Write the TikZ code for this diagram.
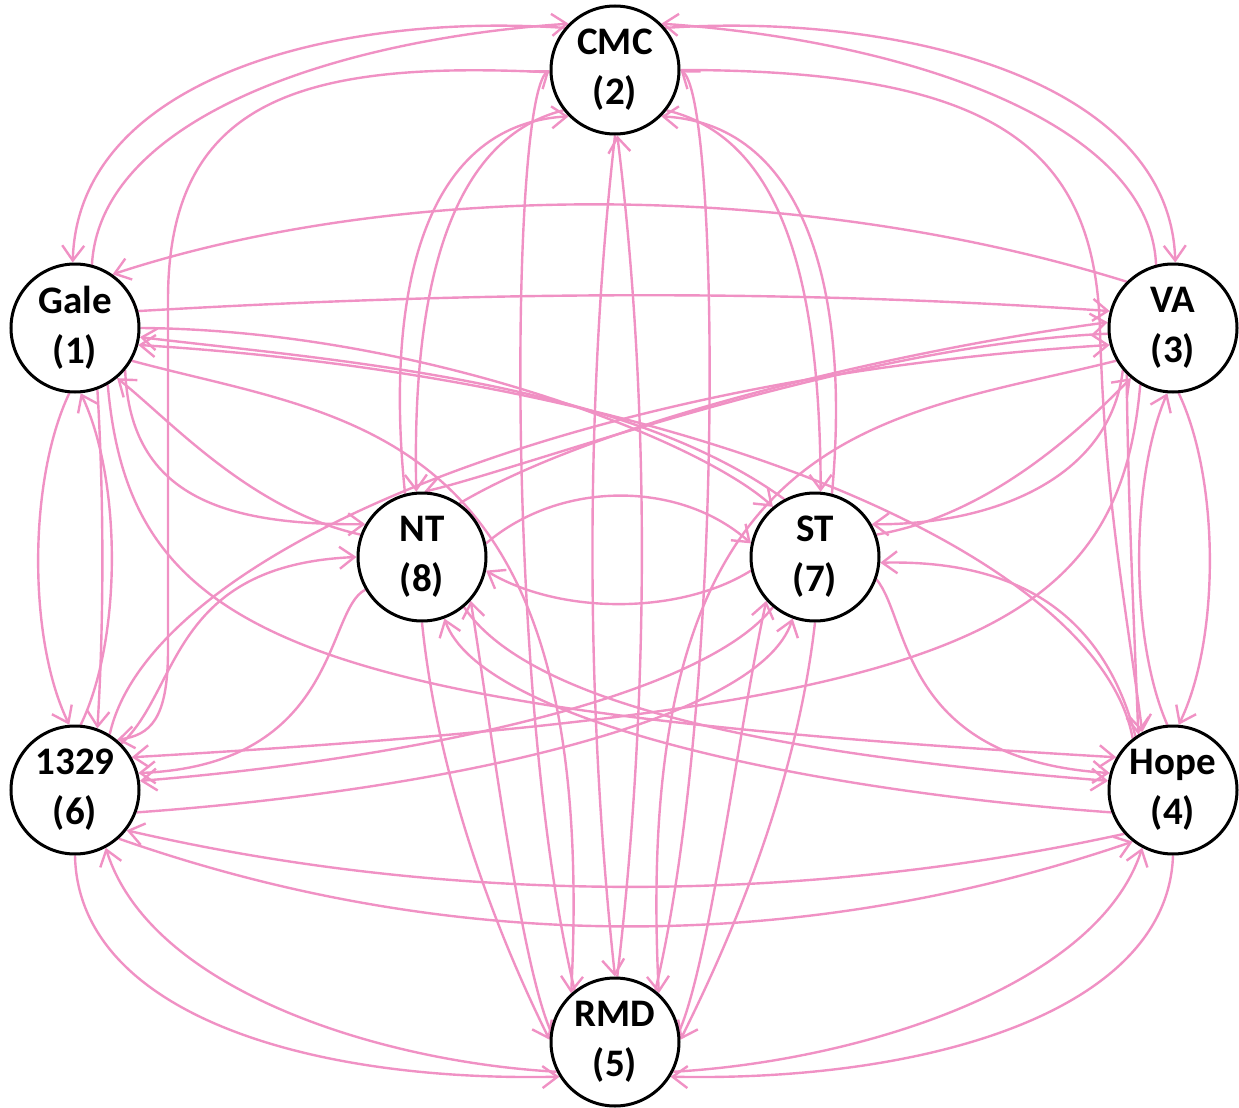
\documentclass[tikz,border=0pt]{standalone}
\usepackage{fontspec}
\setmainfont{Carlito}
\usetikzlibrary{arrows.meta,backgrounds}
\definecolor{edgepink}{RGB}{240,145,196}
\tikzset{
  vtx/.style={circle, draw=black, line width=1.5pt, fill=white, minimum size=64pt,
    inner sep=0pt, align=center, font=\fontsize{19.5}{25}\selectfont\bfseries},
  e/.style={draw=edgepink, line width=1.2pt, -{Straight Barb[length=7.5pt,width=11pt]}}
}
\begin{document}
\begin{tikzpicture}[x=0.5pt,y=-0.5pt]
\useasboundingbox (0,0) rectangle (1239,1108);
% vertices
\node[vtx] (G) at (75,328)   {Gale\\(1)};
\node[vtx] (C) at (615,70)   {CMC\\(2)};
\node[vtx] (V) at (1173,328) {VA\\(3)};
\node[vtx] (H) at (1173,790) {Hope\\(4)};
\node[vtx] (R) at (615,1042) {RMD\\(5)};
\node[vtx] (T) at (75,790)   {1329\\(6)};
\node[vtx] (S) at (815,557)  {ST\\(7)};
\node[vtx] (N) at (422,557)  {NT\\(8)};
\begin{pgfonlayer}{background}
% Gale -- CMC
\draw[e] (C.140) .. controls (330,12) and (78,80) .. (G.92);
\draw[e] (G.75) .. controls (100,120) and (330,40) .. (C.135);
% CMC -- VA
\draw[e] (C.40) .. controls (900,12) and (1170,80) .. (V.88);
\draw[e] (V.105) .. controls (1150,120) and (900,40) .. (C.45);
% Gale -- 1329
\draw[e] (G.265) .. controls (28,480) and (28,640) .. (T.95);
\draw[e] (T.85) .. controls (122,640) and (122,480) .. (G.275);
\draw[e] (G.-70) .. controls (104,500) and (104,620) .. (T.70);
% VA -- Hope
\draw[e] (V.275) .. controls (1220,480) and (1220,640) .. (H.85);
\draw[e] (H.95) .. controls (1130,640) and (1130,480) .. (V.265);
\draw[e] (V.-135) .. controls (1128,500) and (1134,620) .. (H.122);
% 1329 -- RMD
\draw[e] (T.270) .. controls (78,1010) and (300,1082) .. (R.212);
\draw[e] (R.207) .. controls (380,1062) and (150,990) .. (T.298);
% Hope -- RMD
\draw[e] (H.270) .. controls (1168,1010) and (930,1082) .. (R.-32);
\draw[e] (R.-27) .. controls (850,1062) and (1096,990) .. (H.242);
% 1329 -- Hope
\draw[e] (T.312) .. controls (450,955) and (800,955) .. (H.232);
\draw[e] (H.222) .. controls (800,905) and (450,905) .. (T.322);
% Gale -- VA
\draw[e] (V.135) .. controls (800,180) and (400,180) .. (G.55);
\draw[e] (G.15) .. controls (500,290) and (800,290) .. (V.165);
% Gale -- Hope
\draw[e] (G.-60) .. controls (130,640) and (300,710) .. (H.150);
\draw[e] (H.128) .. controls (1100,560) and (700,380) .. (G.-15);
% VA -- 1329
\draw[e] (V.-120) .. controls (1118,640) and (948,710) .. (T.30);
\draw[e] (T.58) .. controls (148,560) and (548,380) .. (V.195);
% Gale -- NT
\draw[e] (G.-40) .. controls (130,500) and (230,525) .. (N.150);
\draw[e] (N.160) .. controls (250,510) and (170,420) .. (G.-50);
% VA -- ST
\draw[e] (V.220) .. controls (1110,480) and (990,525) .. (S.30);
\draw[e] (S.20) .. controls (990,515) and (1080,430) .. (V.230);
% Gale -- ST
\draw[e] (G.0) .. controls (420,330) and (700,440) .. (S.130);
\draw[e] (S.118) .. controls (620,380) and (330,360) .. (G.-8);
% VA -- NT
\draw[e] (V.185) .. controls (850,345) and (520,470) .. (N.88);
\draw[e] (N.55) .. controls (600,420) and (900,350) .. (V.175);
% 1329 -- NT
\draw[e] (T.45) .. controls (180,690) and (170,565) .. (N.180);
\draw[e] (N.210) .. controls (325,610) and (340,765) .. (T.15);
% Hope -- ST
\draw[e] (H.125) .. controls (1100,600) and (1000,560) .. (S.-5);
\draw[e] (S.-20) .. controls (910,620) and (900,760) .. (H.165);
% 1329 -- ST
\draw[e] (S.230) .. controls (700,700) and (400,760) .. (T.8);
\draw[e] (T.-20) .. controls (450,790) and (760,720) .. (S.250);
% Hope -- NT
\draw[e] (N.-50) .. controls (540,720) and (850,760) .. (H.172);
\draw[e] (H.200) .. controls (800,790) and (480,720) .. (N.-70);
% NT -- ST
\draw[e] (N.12) .. controls (560,480) and (680,480) .. (S.168);
\draw[e] (S.192) .. controls (680,615) and (560,615) .. (N.-12);
% CMC -- NT
\draw[e] (N.105) .. controls (385,300) and (420,125) .. (C.225);
\draw[e] (C.218) .. controls (445,140) and (412,300) .. (N.95);
% CMC -- ST
\draw[e] (S.75) .. controls (850,300) and (810,125) .. (C.-45);
\draw[e] (C.-38) .. controls (790,140) and (820,300) .. (S.85);
% CMC -- 1329
\draw[e] (C.182) .. controls (300,60) and (168,100) .. (168,300) -- (168,650)
  .. controls (168,720) and (150,735) .. (T.50);
% CMC -- Hope
\draw[e] (C.0) .. controls (1000,70) and (1095,150) .. (1100,330)
  .. controls (1105,500) and (1125,600) .. (H.118);
% CMC -- RMD
\draw[e] (C.-90) .. controls (585,400) and (585,700) .. (R.90);
\draw[e] (R.88) .. controls (650,700) and (650,400) .. (C.-88);
\draw[e] (R.128) .. controls (505,700) and (510,100) .. (C.180);
\draw[e] (R.52) .. controls (725,700) and (720,100) .. (C.0);
% Gale -- RMD, VA -- RMD
\draw[e] (G.-30) .. controls (350,420) and (600,420) .. (R.132);
\draw[e] (V.-150) .. controls (880,420) and (630,420) .. (R.48);
% NT -- RMD
\draw[e] (N.-90) .. controls (440,800) and (510,960) .. (R.178);
\draw[e] (R.170) .. controls (520,960) and (490,720) .. (N.-42);
% ST -- RMD
\draw[e] (S.-90) .. controls (795,800) and (720,960) .. (R.2);
\draw[e] (R.10) .. controls (710,960) and (740,720) .. (S.-138);
\end{pgfonlayer}
\end{tikzpicture}
\end{document}
